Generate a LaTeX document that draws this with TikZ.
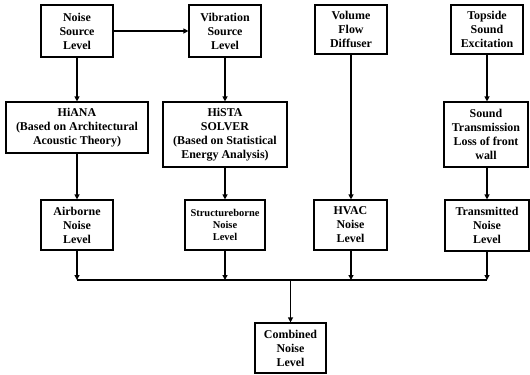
\documentclass[tikz,border=0pt]{standalone}
\usepackage{fontspec}
\setmainfont{Liberation Serif}
\usetikzlibrary{arrows.meta}
\tikzset{
  box/.style={draw=black, line width=1.2bp, fill=white, align=center, inner sep=0pt,
    font=\bfseries\fontsize{12}{14}\selectfont},
  smallbox/.style={box, font=\bfseries\fontsize{10.5}{12}\selectfont},
  arr/.style={draw=black, line width=1.2bp, -{Triangle[length=5bp,width=5bp]}},
  ln/.style={draw=black, line width=1.2bp}
}
\begin{document}
\begin{tikzpicture}[x=1bp,y=-1bp]
\useasboundingbox (0,0) rectangle (530,374);
% top row
\node[box, minimum width=72bp, minimum height=52bp] (ns) at (77,31) {Noise\\Source\\Level};
\node[box, minimum width=72bp, minimum height=52bp] (vs) at (225,31) {Vibration\\Source\\Level};
\node[box, minimum width=72bp, minimum height=49bp] (vf) at (351,29.5) {Volume\\Flow\\Diffuser};
\node[box, minimum width=72bp, minimum height=49bp] (ts) at (487,29.5) {Topside\\Sound\\Excitation};
% middle row
\node[box, minimum width=142bp, minimum height=51bp] (hiana) at (77,127.5) {HiANA\\(Based on Architectural\\Acoustic Theory)};
\node[box, minimum width=124bp, minimum height=65bp] (hista) at (225,134.5) {HiSTA\\SOLVER\\(Based on Statistical\\Energy Analysis)};
\node[box, minimum width=84bp, minimum height=65bp] (stl) at (486,134.5) {Sound\\Transmission\\Loss of front\\wall};
% lower row
\node[box, minimum width=72bp, minimum height=50bp] (air) at (77,225) {Airborne\\Noise\\Level};
\node[smallbox, minimum width=80bp, minimum height=50bp] (str) at (225,225) {Structureborne\\Noise\\Level};
\node[box, minimum width=73bp, minimum height=50bp] (hvac) at (350.5,225) {HVAC\\Noise\\Level};
\node[box, minimum width=84bp, minimum height=51bp] (tr) at (487,225.5) {Transmitted\\Noise\\Level};
% bottom
\node[box, minimum width=71bp, minimum height=50bp] (comb) at (290.5,348) {Combined\\Noise\\Level};
% bus coordinates
\coordinate (busL) at (77,280);
\coordinate (busR) at (487,280);
\coordinate (busM) at (290.5,280);
% connectors
\draw[arr] (ns.east) -- (vs.west);
\draw[arr] (ns.south) -- (hiana.north);
\draw[arr] (hiana.south) -- (air.north);
\draw[arr] (vs.south) -- (hista.north);
\draw[arr] (hista.south) -- (str.north);
\draw[arr] (vf.south) -- (vf.south |- hvac.north);
\draw[arr] (ts.south) -- (ts.south |- stl.north);
\draw[arr] (stl.south -| tr.north) -- (tr.north);
\draw[ln] (busL) -- (busR);
\draw[arr] (air.south) -- (air.south |- busL);
\draw[arr] (str.south) -- (str.south |- busL);
\draw[arr] (hvac.south -| vf.south) -- (vf.south |- busL);
\draw[arr] (tr.south) -- (tr.south |- busL);
\draw[arr] (busM) -- (comb.north);
\end{tikzpicture}
\end{document}
